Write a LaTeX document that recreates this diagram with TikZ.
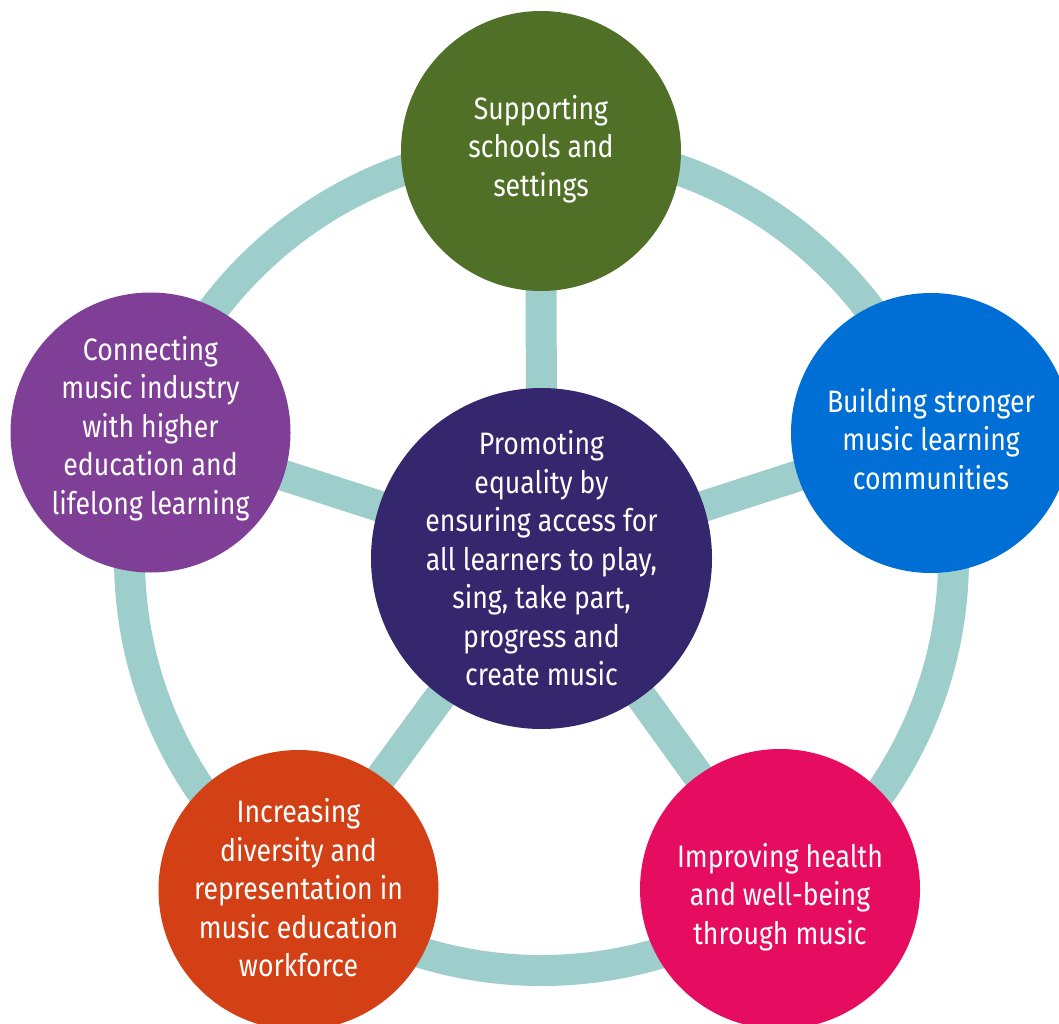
\documentclass[tikz,border=0pt]{standalone}
\usepackage{fontspec}
\setmainfont[FakeStretch=0.86]{Fira Sans}
\usetikzlibrary{backgrounds}
\definecolor{ringc}{HTML}{9DCECC}
\definecolor{greenc}{HTML}{507027}
\definecolor{bluec}{HTML}{006FD5}
\definecolor{purplec}{HTML}{7F3F97}
\definecolor{orangec}{HTML}{D34015}
\definecolor{pinkc}{HTML}{E60C60}
\definecolor{centerc}{HTML}{35276E}
\begin{document}
\begin{tikzpicture}[x=1pt,y=-1pt,
  bubble/.style={circle,inner sep=0pt,minimum size=280pt},
  hub/.style={bubble,minimum size=341pt},
  txt/.style={text=white,align=center,inner sep=0pt,font=\fontsize{31}{38.5}\selectfont},
  band/.style={draw=ringc,line width=31pt}]
\useasboundingbox (0,0) rectangle (1059,1024);
\clip (0,0) rectangle (1059,1024);
\node[hub,fill=centerc] (c) at (541.5,558.5) {};
\node[bubble,fill=greenc] (t) at (541,151) {};
\node[bubble,fill=bluec] (r) at (931,433) {};
\node[bubble,fill=purplec] (l) at (150.5,432.5) {};
\node[bubble,fill=orangec] (bl) at (298.5,890) {};
\node[bubble,fill=pinkc] (br) at (780,889) {};
\node[txt] (ct) at (c.center) {Promoting\\equality by\\ensuring access for\\all learners to play,\\sing, take part,\\progress and\\create music};
\node[txt] (tt) at ([yshift=2pt]t.center) {Supporting\\schools and\\settings};
\node[txt] (rt) at ([yshift=-6pt]r.center) {Building stronger\\music learning\\communities};
\node[txt] (lt) at ([yshift=4pt]l.center) {Connecting\\music industry\\with higher\\education and\\lifelong learning};
\node[txt] (blt) at ([yshift=2pt]bl.center) {Increasing\\diversity and\\representation in\\music education\\workforce};
\node[txt] (brt) at ([yshift=-8pt]br.center) {Improving health\\and well-being\\through music};
\begin{scope}[on background layer]
  \draw[band] (c.center) circle[radius=412];
  \foreach \n in {t,r,l,bl,br} \draw[band] (c.center) -- (\n.center);
\end{scope}
\end{tikzpicture}
\end{document}
